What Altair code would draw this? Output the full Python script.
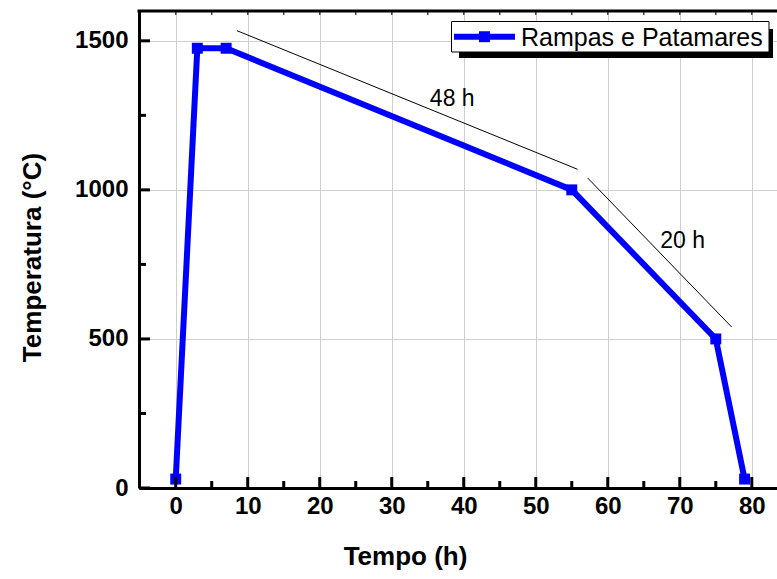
import altair as alt
import pandas as pd

# ---- data ----
tempo = [0, 3, 7, 55, 75, 79]
temperatura = [30, 1475, 1475, 1000, 500, 30]
serie_nome = "Rampas e Patamares"

x_ticks = [0, 10, 20, 30, 40, 50, 60, 70, 80]
x_minor = [5, 15, 25, 35, 45, 55, 65, 75]
y_ticks = [0, 500, 1000, 1500]
y_minor = [250, 750, 1250]

ann_x1 = [8.5, 57.2]
ann_y1 = [1534, 1040]
ann_x2 = [55.8, 77.2]
ann_y2 = [1069, 540]

lbl_x = [38.4, 70.4]
lbl_y = [1305, 829]
lbl_txt = ["48 h", "20 h"]

x_title = "Tempo (h)"
y_title = "Temperatura (°C)"

# ---- layout ----
W, H = 638, 477
FONT = "Liberation Sans"
xs = alt.Scale(domain=[-5.1, 83.5], nice=False, zero=False)
ys = alt.Scale(domain=[0, 1600], nice=False, zero=False)

df = pd.DataFrame({"tempo": tempo, "temp": temperatura})
ann = pd.DataFrame({"x1": ann_x1, "y1": ann_y1, "x2": ann_x2, "y2": ann_y2})
lbl = pd.DataFrame({"x": lbl_x, "y": lbl_y, "t": lbl_txt})
one = alt.Data(values=[{"a": 1}])

x_axis = alt.Axis(
    values=x_ticks, format="d", grid=True, gridColor="#cfcfcf", gridWidth=1,
    ticks=False, tickSize=0, domain=True, domainColor="black", domainWidth=3,
    labelFont=FONT, labelFontWeight="bold", labelFontSize=24, labelColor="black",
    labelPadding=6, labelBaseline="top",
    title=x_title, titleFont=FONT, titleFontWeight="bold", titleFontSize=26,
    titleColor="black", titleX=266, titleY=68, titleAlign="center",
    titleBaseline="middle", titleAnchor="middle",
)
y_axis = alt.Axis(
    values=y_ticks, format="d", grid=True, gridColor="#cfcfcf", gridWidth=1,
    ticks=False, tickSize=0, domain=True, domainColor="black", domainWidth=3,
    labelFont=FONT, labelFontWeight="bold", labelFontSize=24, labelColor="black",
    labelPadding=11,
    title=y_title, titleFont=FONT, titleFontWeight="bold", titleFontSize=26,
    titleColor="black", titleX=-107, titleY=246, titleAngle=-90,
    titleAlign="center", titleBaseline="middle",
)


def X(f):
    return alt.X(f, scale=xs, axis=x_axis, title=x_title)


def Y(f):
    return alt.Y(f, scale=ys, axis=y_axis, title=y_title)


line = alt.Chart(df).mark_line(color="#0000ff", strokeWidth=6).encode(
    x=X("tempo:Q"), y=Y("temp:Q"))
pts = alt.Chart(df).mark_point(shape="square", filled=True, color="#0000ff",
                               size=120, opacity=1).encode(
    x=X("tempo:Q"), y=Y("temp:Q"))

ann_lines = alt.Chart(ann).mark_rule(color="black", strokeWidth=1).encode(
    x=X("x1:Q"), y=Y("y1:Q"), x2="x2:Q", y2="y2:Q")
ann_text = alt.Chart(lbl).mark_text(font=FONT, fontSize=23, color="black",
                                    align="center", baseline="middle").encode(
    x=X("x:Q"), y=Y("y:Q"), text="t:N")

# inward ticks
yt_major = alt.Chart(pd.DataFrame({"v": y_ticks})).mark_rule(color="black", strokeWidth=3).encode(
    y=Y("v:Q"), x=alt.value(0), x2=alt.value(11))
yt_minor = alt.Chart(pd.DataFrame({"v": y_minor})).mark_rule(color="black", strokeWidth=3).encode(
    y=Y("v:Q"), x=alt.value(0), x2=alt.value(7))
xt_major = alt.Chart(pd.DataFrame({"v": x_ticks})).mark_rule(color="black", strokeWidth=3).encode(
    x=X("v:Q"), y=alt.value(H), y2=alt.value(H - 11))
xt_minor = alt.Chart(pd.DataFrame({"v": x_minor})).mark_rule(color="black", strokeWidth=3).encode(
    x=X("v:Q"), y=alt.value(H), y2=alt.value(H - 7))
top_t = alt.Chart(pd.DataFrame({"v": x_ticks + x_minor})).mark_rule(color="#444444", strokeWidth=1.5).encode(
    x=X("v:Q"), y=alt.value(0), y2=alt.value(4))
top_spine = alt.Chart(one).mark_rule(color="black", strokeWidth=3).encode(
    x=alt.value(-1.5), x2=alt.value(W), y=alt.value(0))

# legend
leg_shadow = alt.Chart(one).mark_rect(color="black").encode(
    x=alt.value(320), x2=alt.value(634), y=alt.value(18), y2=alt.value(47))
leg_box = alt.Chart(one).mark_rect(fill="white", stroke="black", strokeWidth=1).encode(
    x=alt.value(312.5), x2=alt.value(630), y=alt.value(10.5), y2=alt.value(41))
leg_line = alt.Chart(one).mark_rule(color="#0000ff", strokeWidth=6).encode(
    x=alt.value(315), x2=alt.value(376), y=alt.value(25.7))
leg_sq = alt.Chart(one).mark_point(shape="square", filled=True, color="#0000ff",
                                   size=120, opacity=1).encode(
    x=alt.value(345.5), y=alt.value(25.7))
leg_txt = alt.Chart(one).mark_text(font=FONT, fontSize=25, color="black",
                                   align="left", baseline="middle").encode(
    x=alt.value(382), y=alt.value(26.5), text=alt.value(serie_nome))

chart = alt.layer(
    line, pts, ann_lines, ann_text,
    yt_major, yt_minor, xt_major, xt_minor, top_t, top_spine,
    leg_shadow, leg_box, leg_line, leg_sq, leg_txt,
).properties(
    width=W, height=H,
    autosize=alt.AutoSizeParams(type="none"),
    padding={"left": 139, "top": 11, "right": 0, "bottom": 91},
).configure_view(stroke=None).configure(background="white")

chart.save("out.html", embed_options={"renderer": "svg", "actions": False})
